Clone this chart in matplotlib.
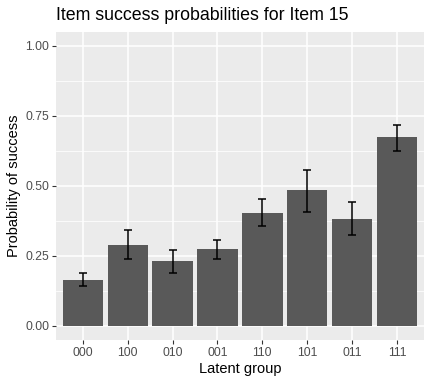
import matplotlib
matplotlib.use("Agg")
import matplotlib.pyplot as plt
import numpy as np

plt.rcParams['font.family'] = ['Liberation Sans', 'DejaVu Sans']

groups = ["000", "100", "010", "001", "110", "101", "011", "111"]
prob = [0.165, 0.290, 0.233, 0.276, 0.405, 0.484, 0.383, 0.674]
lower = [0.142, 0.239, 0.189, 0.241, 0.357, 0.407, 0.325, 0.626]
upper = [0.189, 0.343, 0.271, 0.307, 0.454, 0.558, 0.443, 0.719]

fig = plt.figure(figsize=(4.32, 3.84), dpi=100)
ax = fig.add_axes([0.1296, 0.1146, 0.8514, 0.8021])
ax.set_facecolor('#EBEBEB')

x = np.arange(len(groups))
# grid
for yv in [0.125, 0.375, 0.625, 0.875]:
    ax.axhline(yv, color='white', lw=0.55, zorder=0)
for yv in [0, 0.25, 0.5, 0.75, 1.0]:
    ax.axhline(yv, color='white', lw=1.1, zorder=0)
for xv in x:
    ax.axvline(xv, color='white', lw=1.1, zorder=0)

ax.bar(x, prob, width=0.9, color='#595959', zorder=2)
err = [np.array(prob) - np.array(lower), np.array(upper) - np.array(prob)]
ax.errorbar(x, prob, yerr=err, fmt='none', ecolor='black', elinewidth=1.1,
            capsize=3, capthick=1.1, zorder=3)

ax.set_xlim(-0.6, 7.6)
ax.set_ylim(-0.05, 1.05)
ax.set_xticks(x)
ax.set_xticklabels(groups)
ax.set_yticks([0, 0.25, 0.5, 0.75, 1.0])
ax.set_yticklabels(["0.00", "0.25", "0.50", "0.75", "1.00"])
ax.tick_params(axis='both', colors='#333333', labelcolor='#4D4D4D',
               labelsize=8.8, length=3, width=0.8, pad=2)
for s in ax.spines.values():
    s.set_visible(False)

ax.set_xlabel("Latent group", fontsize=10.5, color='black', labelpad=2)
ax.set_ylabel("Probability of success", fontsize=10.5, color='black', labelpad=3)
fig.text(0.1296, 0.96, "Item success probabilities for Item 15", fontsize=12.8,
         ha='left', va='center', color='black')

fig.savefig("out.png", dpi=100)
